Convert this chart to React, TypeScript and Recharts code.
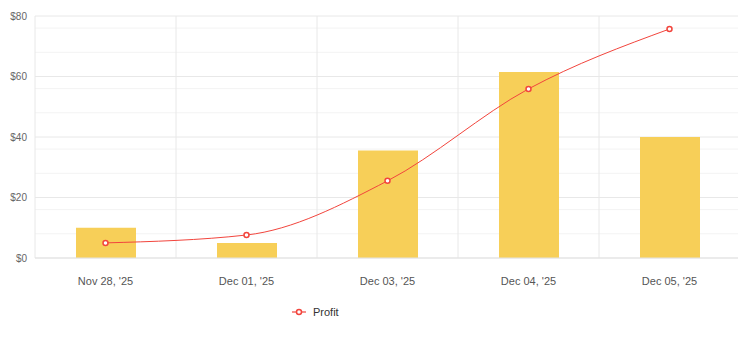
import React from 'react';
import { ComposedChart, Bar, Line, XAxis, YAxis, CartesianGrid, Legend } from 'recharts';

const dates = ["Nov 28, '25", "Dec 01, '25", "Dec 03, '25", "Dec 04, '25", "Dec 05, '25"];
const barValues = [10, 5, 35.5, 61.5, 40];
const profit = [5, 7.6, 25.5, 55.9, 75.7];
const majorTicks = [0, 20, 40, 60, 80];
const minorTicks = [4, 8, 12, 16, 24, 28, 32, 36, 44, 48, 52, 56, 64, 68, 72, 76];

const data = dates.map((name, i) => ({ name, amount: barValues[i], profit: profit[i] }));

const RED = '#F2453D';

const ProfitLegend = () => (
    <div style={{ display: 'flex', alignItems: 'center', marginLeft: 292, height: 20 }}>
        <svg width={14} height={10} style={{ marginRight: 7 }}>
            <line x1={0} y1={5} x2={14} y2={5} stroke={RED} strokeOpacity={0.6} strokeWidth={2} />
            <circle cx={7} cy={5} r={2.5} fill="#fff" stroke={RED} strokeWidth={1.5} />
        </svg>
        <span style={{ fontSize: 11, color: '#333' }}>Profit</span>
    </div>
);

const App: React.FC = () => {
    return (
        <div style={{ margin: -8, width: 746, height: 340, fontFamily: '"Liberation Sans", Arial, sans-serif' }}>
            <ComposedChart width={746} height={340} data={data} margin={{ top: 16, right: 6, left: 0, bottom: 18 }}>
                <CartesianGrid stroke="#f3f3f3" vertical={false} horizontalValues={minorTicks} />
                <CartesianGrid
                    stroke="#e8e8e8"
                    horizontalValues={majorTicks}
                    verticalCoordinatesGenerator={({ offset }: any) =>
                        dates.map((_, i) => offset.left + (i * offset.width) / dates.length).concat(offset.left + offset.width)
                    }
                />
                <XAxis
                    dataKey="name"
                    height={44}
                    tickLine={false}
                    tickSize={0}
                    tickMargin={19}
                    axisLine={{ stroke: '#e3e3e3' }}
                    tick={{ fill: '#555', fontSize: 11 }}
                />
                <YAxis
                    width={35}
                    domain={[0, 80]}
                    ticks={majorTicks}
                    tickFormatter={(v: number) => `$${v}`}
                    axisLine={false}
                    tickLine={false}
                    tick={{ fill: '#666', fontSize: 10 }}
                />
                <Legend verticalAlign="bottom" height={20} content={() => <ProfitLegend />} />
                <Bar dataKey="amount" fill="#F7CF58" barSize={60} isAnimationActive={false} />
                <Line
                    type="monotone"
                    dataKey="profit"
                    name="Profit"
                    stroke={RED}
                    strokeWidth={1}
                    dot={{ r: 2.5, fill: '#fff', stroke: RED, strokeWidth: 1.5 }}
                    isAnimationActive={false}
                />
            </ComposedChart>
        </div>
    );
};

export default App;
